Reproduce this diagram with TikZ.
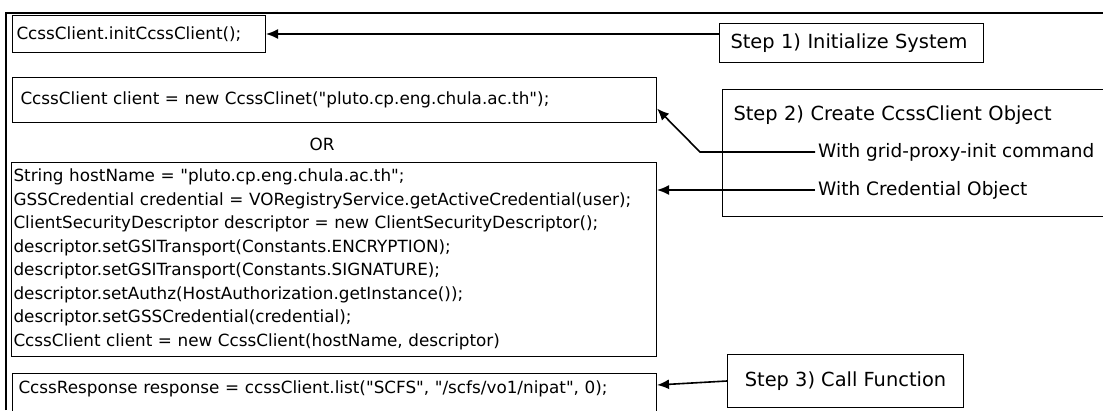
\documentclass[tikz,border=0pt]{standalone}
\usepackage{fontspec}
\setmainfont{DejaVu Sans}[Ligatures=TeXOff]
\usetikzlibrary{positioning,arrows.meta}

\tikzset{
  codebox/.style={draw, line width=1pt, anchor=north west, align=left,
    font=\fontsize{16.8}{23.5}\selectfont},
  stepbox/.style={draw, line width=1pt, font=\fontsize{19.4}{23}\selectfont},
  note/.style={anchor=west, inner sep=3pt, font=\fontsize{18.5}{22}\selectfont},
  link/.style={->, line width=1.6pt}
}

\begin{document}
\begin{tikzpicture}[x=1pt, y=-1pt, >={Latex[length=12pt,width=10pt]}]
  \useasboundingbox (0,0) rectangle (1103,410);
  \clip (0,0) rectangle (1103,410);
  % outer frame
  \draw[line width=2pt] (6,410) |- (1103,13);
  % code on the left
  \node[codebox, inner xsep=4pt, text width=245pt, minimum height=37pt] (init) at (12,15)
    {CcssClient.initCcssClient();};
  \node[codebox, inner xsep=8pt, text width=628pt, minimum height=45pt] (newclient) at (12,77)
    {CcssClient client = new CcssClinet("pluto.cp.eng.chula.ac.th");};
  \node[font=\fontsize{16.8}{20}\selectfont] (or) at (322,144) {OR};
  \node[codebox, inner xsep=2pt, text width=641pt, minimum height=194pt] (credclient) at (11,162)
    {String hostName = "pluto.cp.eng.chula.ac.th";\\
     GSSCredential credential = VORegistryService.getActiveCredential(user);\\
     ClientSecurityDescriptor descriptor = new ClientSecurityDescriptor();\\
     descriptor.setGSITransport(Constants.ENCRYPTION);\\
     descriptor.setGSITransport(Constants.SIGNATURE);\\
     descriptor.setAuthz(HostAuthorization.getInstance());\\
     descriptor.setGSSCredential(credential);\\
     CcssClient client = new CcssClient(hostName, descriptor)};
  \node[codebox, inner xsep=6pt, inner ysep=0pt, text width=632pt, text height=20pt, text depth=40pt] (call) at (12,373)
    {CcssResponse response = ccssClient.list("SCFS", "/scfs/vo1/nipat", 0);};
  % steps on the right
  \node[stepbox, anchor=north west, align=left, inner xsep=11pt, text width=242pt, minimum height=39pt] (step1) at (719,23)
    {Step 1) Initialize System};
  \node[stepbox, anchor=north west, align=left, inner xsep=11pt, inner ysep=0pt, text width=380pt, text height=31pt, text depth=96pt] (step2) at (722,89)
    {Step 2) Create CcssClient Object};
  \node[note] (gridproxy) at (815,152) {With grid-proxy-init command};
  \node[note] (credential) at (815,190) {With Credential Object};
  \node[stepbox, anchor=north west, minimum width=236pt, minimum height=53pt] (step3) at (727,354)
    {Step 3) Call Function};
  % connectors
  \coordinate (bend) at (700,152);
  \draw[link] (step1.west |- init.east) -- (init.east);
  \draw[link] (gridproxy.west) -- (bend) -- ([yshift=-8.5pt]newclient.east);
  \draw[link] (credential.west) -- (credential.west -| credclient.east);
  \draw[link] (step3.west) -- ([yshift=-12pt]call.north east);
\end{tikzpicture}
\end{document}
